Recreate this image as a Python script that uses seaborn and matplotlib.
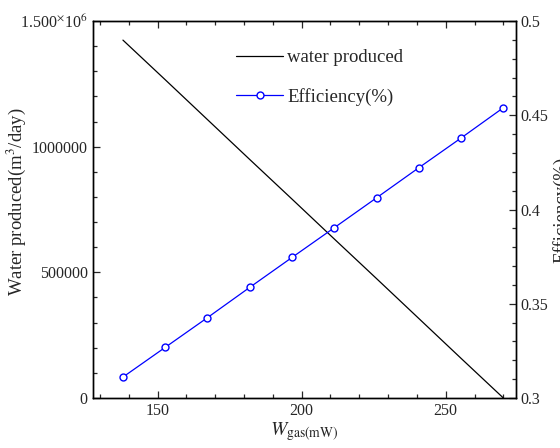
import matplotlib
matplotlib.use("Agg")
import matplotlib.pyplot as plt
import matplotlib.ticker as mticker
import seaborn as sns
import pandas as pd

sns.set_theme(style="ticks")
plt.rcParams['font.family'] = ['Liberation Serif', 'DejaVu Serif']
plt.rcParams['mathtext.fontset'] = 'stix'

w_gas = [138.0, 152.7, 167.3, 182.0, 196.7, 211.3, 226.0, 240.7, 255.3, 270.0]
water_produced = [1424000, 1266000, 1108000, 949000, 791000, 633000, 475000, 316000, 158000, 0]
efficiency = [0.3111, 0.3269, 0.3426, 0.3587, 0.3746, 0.3903, 0.4062, 0.4222, 0.4379, 0.4540]

df = pd.DataFrame({"w": w_gas, "water": water_produced, "eff": efficiency})

fig = plt.figure(figsize=(5.6, 4.48), dpi=100)
ax = fig.add_axes([0.1655, 0.1116, 0.7555, 0.8415])
ax2 = ax.twinx()

sns.lineplot(data=df, x="w", y="water", ax=ax, color="black", linewidth=0.9,
             label="water produced", legend=False)
sns.lineplot(data=df, x="w", y="eff", ax=ax2, color="blue", linewidth=0.9,
             marker="o", markersize=5, markerfacecolor="white",
             markeredgecolor="blue", markeredgewidth=1.0,
             label="Efficiency(%)", legend=False)

ax.set_xlim(127.5, 274.3)
ax.set_ylim(0, 1500000)
ax2.set_ylim(0.3, 0.5)

ax.xaxis.set_major_locator(mticker.MultipleLocator(50))
ax.xaxis.set_minor_locator(mticker.MultipleLocator(10))
ax.yaxis.set_major_locator(mticker.MultipleLocator(500000))
ax.yaxis.set_minor_locator(mticker.MultipleLocator(100000))
ax2.yaxis.set_major_locator(mticker.MultipleLocator(0.05))
ax2.yaxis.set_minor_locator(mticker.MultipleLocator(0.01))

def left_fmt(v, pos):
    if abs(v - 1500000) < 1:
        return r"1.500$^{\times}$10$^{6}$"
    return f"{int(round(v))}"
ax.yaxis.set_major_formatter(mticker.FuncFormatter(left_fmt))
ax2.yaxis.set_major_formatter(mticker.FuncFormatter(lambda v, p: f"{v:g}"))

for a in (ax, ax2):
    a.tick_params(which="both", direction="in", labelsize=11.5, width=0.9)
    a.tick_params(which="major", length=5)
    a.tick_params(which="minor", length=3)
    for s in a.spines.values():
        s.set_linewidth(1.0)
        s.set_color("black")
ax.tick_params(axis="x", which="both", top=True)
ax.tick_params(axis="y", which="both", right=False)
ax2.tick_params(axis="y", which="both", left=False, right=True)

ax.set_xlabel(r"$W_{\rm gas(mW)}$", fontsize=14, labelpad=1)
ax.set_ylabel(r"Water produced(m$^{3}$/day)", fontsize=13.5)
ax.yaxis.set_label_coords(-0.152, 0.52)
ax2.set_ylabel("Efficiency(%)", fontsize=13.5, labelpad=3)

h1, l1 = ax.get_legend_handles_labels()
h2, l2 = ax2.get_legend_handles_labels()
ax.legend(h1 + h2, l1 + l2, loc="upper left", bbox_to_anchor=(0.3, 0.97),
          frameon=False, fontsize=13.5, handlelength=2.5, handletextpad=0.2,
          labelspacing=1.15)

fig.savefig("out.png", dpi=100)
